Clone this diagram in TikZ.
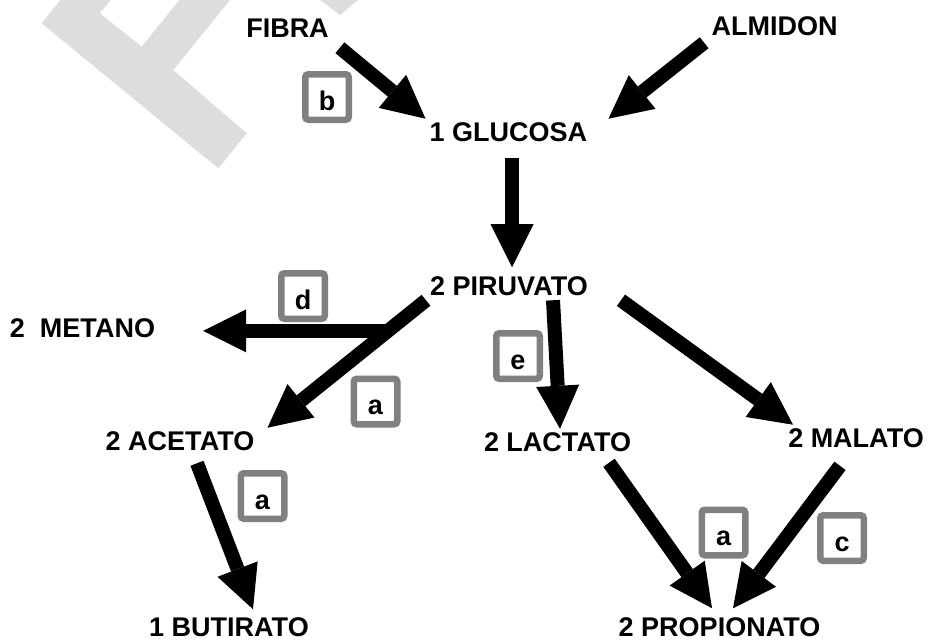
\documentclass[tikz,border=0pt]{standalone}
\usepackage{fontspec}
\setmainfont{Liberation Sans}
\usetikzlibrary{arrows.meta}
\definecolor{boxgray}{HTML}{808080}
\definecolor{markgray}{HTML}{DDDDDD}

\begin{document}
\begin{tikzpicture}[x=1pt,y=-1pt,
  met/.style={font=\bfseries\fontsize{27}{32}\selectfont,inner sep=4pt},
  enz/.style={draw=boxgray,line width=6.5pt,fill=white,rounded corners=3pt,minimum width=43.5pt,minimum height=45.5pt,inner sep=0pt,text height=26pt,text depth=0pt,font=\bfseries\fontsize{27}{32}\selectfont},
  flow/.style={line width=14pt,-{Triangle[length=43pt,width=43pt,line width=0pt]}}]
\useasboundingbox (0,0) rectangle (928,642);
% marca de agua
\fill[markgray] (60.5,0) -- (41.7,23.3) -- (218.3,168.3) -- (246.7,133.3) -- (173.3,70) -- (230,0)
   -- (179.3,0) -- (141.7,46.7) -- (100,13.3) -- (110.7,0) -- cycle;
\fill[markgray] (320,0) -- (340,15) -- (358,0) -- cycle;
% metabolitos
\node[met] (fibra) at (287.5,28.5) {FIBRA};
\node[met] (almidon) at (774.5,26.5) {ALMIDON};
\node[met] (glucosa) at (508.5,132.5) {1 GLUCOSA};
\node[met] (piruvato) at (509,286.5) {2 PIRUVATO};
\node[met] (metano) at (82.5,328) {2\ \ METANO};
\node[met] (acetato) at (180,441.5) {2 ACETATO};
\node[met] (lactato) at (557.5,442.5) {2 LACTATO};
\node[met] (malato) at (856,438.5) {2 MALATO};
\node[met,inner sep=1pt] (butirato) at (229,627) {1 BUTIRATO};
\node[met,inner sep=1pt] (propionato) at (719.5,627) {2 PROPIONATO};
% flechas
\draw[flow,shorten <=9pt] (fibra.south east) -- (glucosa.north west);
\draw[flow,shorten <=4pt] (almidon.south west) -- ([xshift=17pt]glucosa.north east);
\draw[flow,shorten <=11.5pt,shorten >=5.5pt] ([xshift=3.5pt]glucosa.south) -- ([xshift=3pt]piruvato.north);
\draw[flow] (piruvato.south west) -- coordinate[pos=0.24] (rama) ([xshift=9pt]acetato.north east);
\draw[flow,shorten >=44pt] (rama) -- (rama -| metano.east);
\draw[flow] ([xshift=44pt]piruvato.south) -- ([xshift=2.5pt]lactato.north);
\draw[flow] ([xshift=29pt]piruvato.south east) -- ([xshift=9pt]malato.north west);
\draw[flow] ([shift={(17,8)}]acetato.south) -- ([shift={(24,-7)}]butirato.north);
\draw[flow] ([shift={(51.5,6.5)}]lactato.south) -- ([shift={(-7.5,-8)}]propionato.north);
\draw[flow] ([shift={(-16,13.5)}]malato.south) -- ([shift={(13.5,-8)}]propionato.north);
% enzimas
\foreach \nm/\x/\y/\t in {eb/327/97/b, ed/303/296/d, ea/375.5/401.5/a, ee/518/356/e,
   eaa/262.5/496/a, eab/723.5/532.5/a, ec/842/538/c} {
   \node[enz] (\nm) at (\x,\y) {\t};
}
\end{tikzpicture}
\end{document}
